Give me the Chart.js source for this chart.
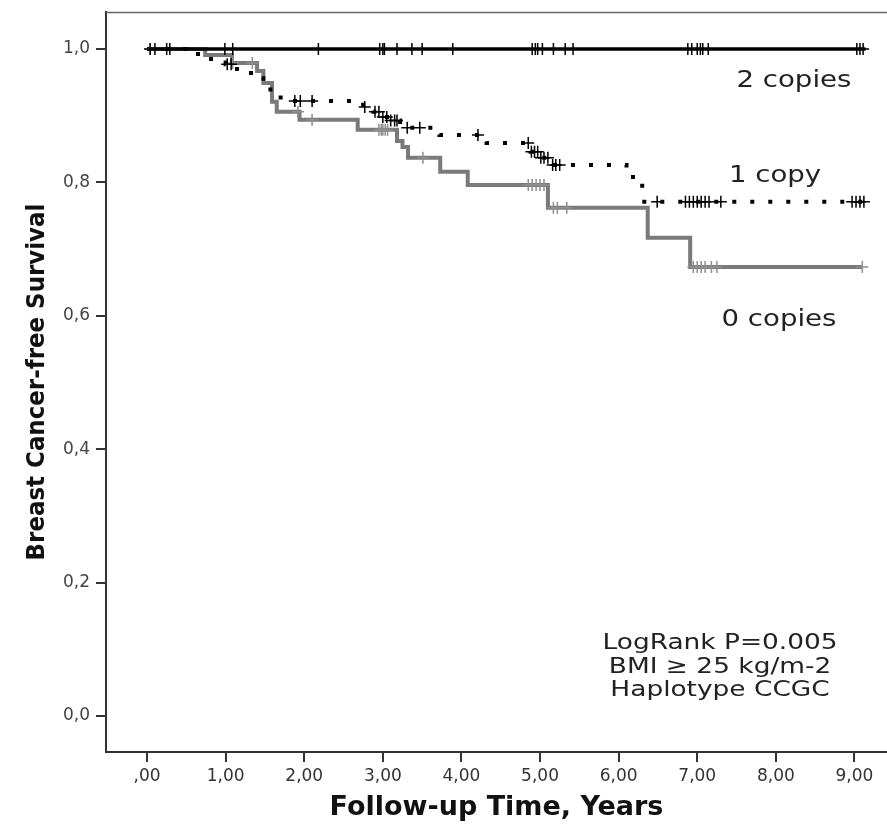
<!DOCTYPE html>
<html><head><meta charset="utf-8">
<script src="https://cdn.jsdelivr.net/npm/chart.js@4"></script>
<style>html,body{margin:0;padding:0;background:#fff;overflow:hidden;}#wrap{width:887px;height:828px;position:relative;}</style>
</head><body><div id="wrap"><canvas id="c"></canvas></div>
<script>
// ---- tick labels ----
const xTickValues = [0, 1, 2, 3, 4, 5, 6, 7, 8, 9];
const xTickLabels = [',00', '1,00', '2,00', '3,00', '4,00', '5,00', '6,00', '7,00', '8,00', '9,00'];
const yTickValues = [0, 0.2, 0.4, 0.6, 0.8, 1.0];
const yTickLabels = ['0,0', '0,2', '0,4', '0,6', '0,8', '1,0'];

// ---- groups ----
const groupNames = ['2 copies', '1 copy', '0 copies'];

// 2 copies: no events
const times2 = [0, 9.14];
const surv2  = [1, 1];
// 1 copy (dotted)
const times1 = [0, 0.55, 0.73, 1.00, 1.10, 1.20, 1.35, 1.48, 1.57, 1.70, 2.75, 2.88, 3.00, 3.08, 3.22, 3.72, 4.32, 4.88, 5.00, 5.14, 6.10, 6.22, 6.30, 9.15];
const surv1  = [1, 0.9925, 0.985, 0.977, 0.970, 0.964, 0.956, 0.949, 0.934, 0.922, 0.913, 0.906, 0.898, 0.893, 0.882, 0.871, 0.859, 0.846, 0.837, 0.826, 0.808, 0.799, 0.771, 0.771];
// 0 copies (grey)
const times0 = [0, 0.74, 1.08, 1.40, 1.48, 1.59, 1.65, 1.94, 2.68, 3.18, 3.25, 3.32, 3.73, 4.08, 5.10, 6.37, 6.91, 9.10];
const surv0  = [1, 0.991, 0.979, 0.967, 0.949, 0.921, 0.906, 0.894, 0.879, 0.862, 0.853, 0.837, 0.816, 0.796, 0.762, 0.717, 0.673, 0.673];

// censored observations (times)
const cens2 = [0.04, 0.10, 0.25, 0.29, 0.99, 1.09, 2.18, 2.96, 3.00, 3.02, 3.18, 3.37, 3.50, 3.89, 4.90, 4.94, 4.97, 5.03, 5.17, 5.32, 5.42, 6.88, 6.93, 7.00, 7.04, 7.07, 7.14, 9.03, 9.07, 9.11];
const cens1 = [1.02, 1.07, 1.88, 1.95, 2.10, 2.77, 2.90, 2.95, 3.00, 3.05, 3.10, 3.15, 3.18, 3.31, 3.47, 4.21, 4.85, 4.89, 4.93, 4.97, 5.01, 5.05, 5.10, 5.16, 5.20, 5.25, 6.49, 6.85, 6.90, 6.95, 7.00, 7.05, 7.10, 7.15, 7.30, 8.97, 9.02, 9.07, 9.12];
const cens0 = [0.04, 1.09, 1.34, 1.92, 2.10, 2.95, 2.98, 3.00, 3.03, 3.06, 3.51, 4.85, 4.90, 4.95, 5.00, 5.05, 5.17, 5.22, 5.34, 6.95, 7.00, 7.05, 7.10, 7.18, 7.25, 9.10];

const noteLines = ['LogRank P=0.005', 'BMI \u2265 25 kg/m-2', 'Haplotype CCGC'];

// ---- helpers ----
const toPts = (ts, ss) => ts.map((t, i) => ({x: t, y: ss[i]}));
const survAt = (ts, ss, t) => { let v = ss[0]; for (let i = 0; i < ts.length; i++) if (ts[i] <= t) v = ss[i]; return v; };
const censPts = (cs, ts, ss) => cs.map(t => ({x: t, y: survAt(ts, ss, t)}));

const BLACK = '#000000';
const GREY = '#7a7a7a';
const GREY_MARK = '#8e8e8e';

const annot = {
  id: 'annot',
  afterDatasetsDraw(chart) {
    const {ctx, chartArea, scales: {x, y}} = chart;
    ctx.save();
    ctx.strokeStyle = '#666';
    ctx.lineWidth = 1.5;
    ctx.beginPath();
    ctx.moveTo(chartArea.left, chartArea.top + 0.5);
    ctx.lineTo(chart.width, chartArea.top + 0.5);
    ctx.stroke();
    const put = (txt, t, s) => {
      ctx.save();
      ctx.translate(x.getPixelForValue(t), y.getPixelForValue(s));
      ctx.scale(1.2, 1);
      ctx.fillText(txt, 0, 0);
      ctx.restore();
    };
    ctx.fillStyle = '#222';
    ctx.textAlign = 'center';
    ctx.textBaseline = 'middle';
    ctx.font = '23px "DejaVu Sans"';
    put(groupNames[0], 8.23, 0.952);
    put(groupNames[1], 7.99, 0.810);
    put(groupNames[2], 8.04, 0.594);
    ctx.font = '22px "DejaVu Sans"';
    put(noteLines[0], 7.29, 0.109);
    put(noteLines[1], 7.29, 0.0735);
    put(noteLines[2], 7.29, 0.039);
    ctx.restore();
  }
};

const markDs = (pts, color) => ({
  data: pts, showLine: false, pointStyle: 'cross', pointRadius: 6, pointHoverRadius: 6,
  borderColor: color, backgroundColor: color, borderWidth: 1.5
});
const lineDs = (pts, color, width, dash) => ({
  data: pts, showLine: true, stepped: true, pointRadius: 0, pointHoverRadius: 0,
  borderColor: color, borderWidth: width, borderDash: dash, borderCapStyle: 'butt', fill: false
});

new Chart(document.getElementById('c'), {
  type: 'scatter',
  data: {
    datasets: [
      markDs(censPts(cens2, times2, surv2), BLACK),
      markDs(censPts(cens1, times1, surv1), BLACK),
      markDs(censPts(cens0, times0, surv0), GREY_MARK),
      lineDs(toPts(times2, surv2), BLACK, 3.5, []),
      lineDs(toPts(times1, surv1), BLACK, 4, [4, 14]),
      lineDs(toPts(times0, surv0), GREY, 4, [])
    ]
  },
  options: {
    responsive: true, maintainAspectRatio: false, animation: false,
    layout: {autoPadding: false, padding: {top: 12, right: 0, left: 0, bottom: 0}},
    plugins: {legend: {display: false}, tooltip: {enabled: false}},
    scales: {
      x: {
        type: 'linear', min: -0.522, max: 9.414,
        afterBuildTicks: s => { s.ticks = xTickValues.map(v => ({value: v})); },
        afterFit: s => { s.height = 76; s.paddingLeft = 0; s.paddingRight = 0; s.paddingTop = 0; s.paddingBottom = 0; },
        ticks: {
          callback: v => { const i = xTickValues.findIndex(t => Math.abs(t - v) < 1e-9); return i >= 0 ? xTickLabels[i] : ''; },
          font: {family: 'DejaVu Sans', size: 17}, color: '#333', padding: 4, maxRotation: 0, autoSkip: false
        },
        grid: {display: true, drawOnChartArea: false, drawTicks: true, tickLength: 10, color: '#333', lineWidth: 2},
        border: {display: true, color: '#333', width: 2},
        title: {display: true, text: 'Follow-up Time, Years', color: '#111',
          font: {family: 'DejaVu Sans', weight: 'bold', size: 27}, padding: {top: 0, bottom: 4}}
      },
      y: {
        type: 'linear', min: -0.054, max: 1.0555,
        afterBuildTicks: s => { s.ticks = yTickValues.map(v => ({value: v})); },
        afterFit: s => { s.width = 106; s.paddingLeft = 0; s.paddingRight = 0; s.paddingTop = 0; s.paddingBottom = 0; },
        ticks: {
          callback: v => { const i = yTickValues.findIndex(t => Math.abs(t - v) < 1e-9); return i >= 0 ? yTickLabels[i] : ''; },
          font: {family: 'DejaVu Sans', size: 17}, color: '#444', padding: 6, autoSkip: false
        },
        grid: {display: true, drawOnChartArea: false, drawTicks: true, tickLength: 10, color: '#333', lineWidth: 2},
        border: {display: true, color: '#333', width: 2},
        title: {display: true, text: 'Breast Cancer-free Survival', color: '#111',
          font: {family: 'DejaVu Sans Condensed', weight: 'bold', size: 25.5}, padding: {top: 22, bottom: 0}}
      }
    }
  },
  plugins: [annot]
});
</script></body></html>
